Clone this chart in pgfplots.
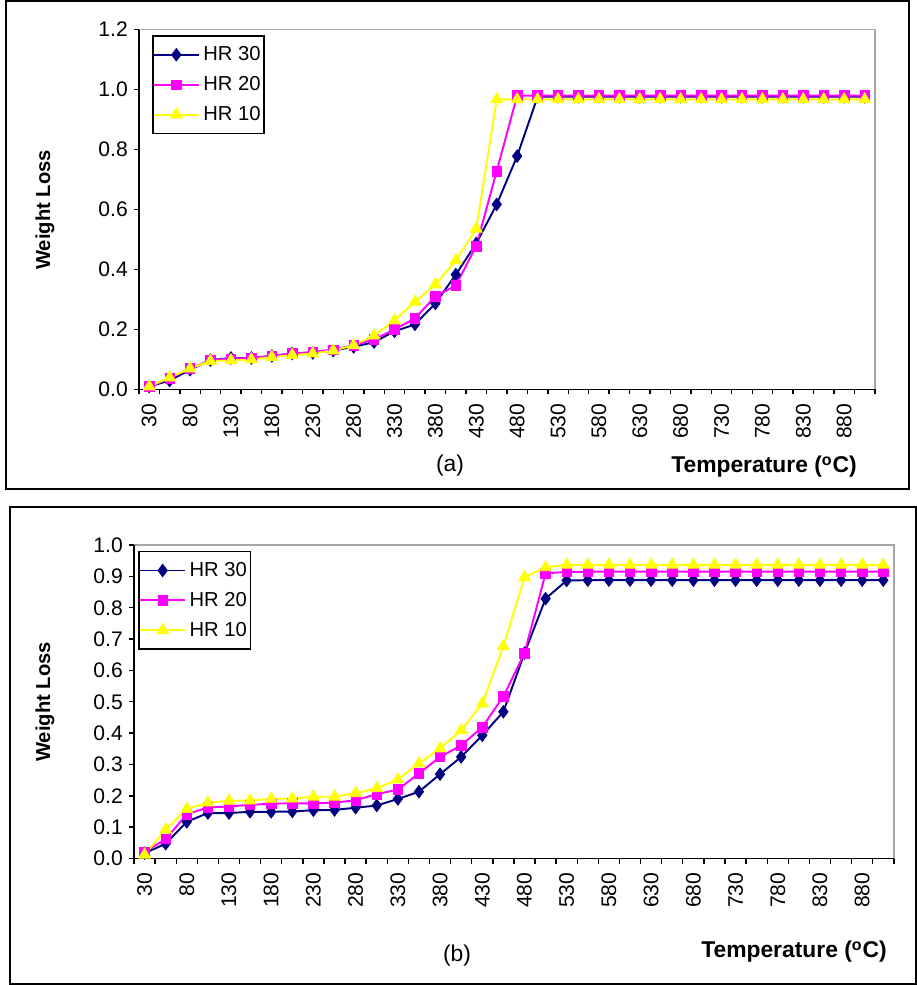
\documentclass[border=0pt]{standalone}
\usepackage{fontspec}
\setmainfont{Liberation Sans}
\usepackage{pgfplots}
\pgfplotsset{compat=1.18}

\definecolor{hrnavy}{RGB}{0,0,128}
\definecolor{hrmag}{RGB}{255,0,255}
\definecolor{hryel}{RGB}{255,255,0}

% data, one column per heating rate; idx 0..35 -> 30, 55, ..., 905 C
\pgfplotstableread{
idx  hra   hrb   hrc
0    0.010 0.010 0.010
1    0.030 0.037 0.040
2    0.066 0.070 0.070
3    0.098 0.098 0.095
4    0.105 0.103 0.097
5    0.105 0.105 0.100
6    0.112 0.112 0.108
7    0.120 0.120 0.115
8    0.122 0.125 0.120
9    0.130 0.133 0.130
10   0.142 0.147 0.147
11   0.158 0.167 0.180
12   0.194 0.200 0.230
13   0.217 0.237 0.292
14   0.287 0.311 0.350
15   0.383 0.347 0.430
16   0.487 0.478 0.536
17   0.617 0.728 0.967
18   0.778 0.980 0.967
19   0.976 0.980 0.967
20   0.976 0.980 0.967
21   0.976 0.980 0.967
22   0.976 0.980 0.967
23   0.976 0.980 0.967
24   0.976 0.980 0.967
25   0.976 0.980 0.967
26   0.976 0.980 0.967
27   0.976 0.980 0.967
28   0.976 0.980 0.967
29   0.976 0.980 0.967
30   0.976 0.980 0.967
31   0.976 0.980 0.967
32   0.976 0.980 0.967
33   0.976 0.980 0.967
34   0.976 0.980 0.967
35   0.976 0.980 0.967
}\tgaA

\pgfplotstableread{
idx  hra   hrb   hrc
0    0.017 0.021 0.012
1    0.047 0.062 0.092
2    0.117 0.141 0.158
3    0.145 0.163 0.178
4    0.145 0.166 0.184
5    0.149 0.171 0.185
6    0.149 0.175 0.190
7    0.150 0.176 0.191
8    0.154 0.176 0.197
9    0.155 0.178 0.197
10   0.162 0.186 0.208
11   0.169 0.205 0.224
12   0.190 0.220 0.252
13   0.213 0.271 0.303
14   0.269 0.324 0.351
15   0.324 0.361 0.409
16   0.393 0.419 0.494
17   0.468 0.517 0.677
18   0.655 0.655 0.897
19   0.829 0.910 0.929
20   0.887 0.914 0.937
21   0.888 0.915 0.937
22   0.888 0.915 0.937
23   0.888 0.915 0.937
24   0.888 0.915 0.937
25   0.888 0.915 0.937
26   0.888 0.915 0.937
27   0.888 0.915 0.937
28   0.888 0.915 0.937
29   0.888 0.915 0.937
30   0.888 0.915 0.937
31   0.888 0.915 0.937
32   0.888 0.915 0.937
33   0.888 0.915 0.937
34   0.888 0.915 0.937
35   0.888 0.915 0.937
}\tgaB

\pgfplotsset{
  tga/.style={
    scale only axis,
    xmin=-0.5, xmax=35.5, ymin=0,
    axis x line*=bottom, axis y line*=left,
    axis line style={black, line width=0.8pt},
    axis background/.style={draw=gray!70, line width=1pt},
    tick align=outside,
    major tick length=0.1cm, minor tick length=0.1cm,
    tick style={black, line width=0.8pt},
    major x tick style={draw=none},
    xtick={0,2,...,34},
    xticklabels={30,80,130,180,230,280,330,380,430,480,530,580,630,680,730,780,830,880},
    minor xtick={-0.5,0.5,...,35.5},
    xticklabel style={rotate=90, anchor=east, inner xsep=5pt},
    ticklabel style={font=\fontsize{12}{14}\selectfont},
    /pgf/number format/assume math mode=true,
    yticklabel style={/pgf/number format/.cd, fixed, fixed zerofill, precision=1},
    legend cell align=left,
    legend image code/.code={\draw[mark repeat=2, mark phase=2, ##1] plot coordinates {(0cm,0cm) (0.45cm,0cm) (0.9cm,0cm)};},
    legend style={anchor=north west, draw=black, line width=1pt, fill=white,
      font=\fontsize{11.5}{13}\selectfont, row sep=3.5pt, inner xsep=0pt, inner ysep=4pt},
    every axis plot/.append style={line width=1.1pt},
    clip=false,
  },
  s30/.style={color=hrnavy, mark=diamond*, mark size=3.6pt, mark options={solid, fill=hrnavy, line width=0.4pt}},
  s20/.style={color=hrmag, mark=square*, mark size=2.7pt, mark options={solid, fill=hrmag, line width=0.4pt}},
  s10/.style={color=hryel, mark=triangle*, mark size=3.9pt, mark options={solid, fill=hryel, line width=0.4pt}},
}

\begin{document}
\begin{tikzpicture}[x=0.02cm, y=0.02cm]
\useasboundingbox (0,0) rectangle (917,985);

% outer frames of the two charts
\draw[black, line width=0.7pt] (6,496) rectangle (909,984);
\draw[black, line width=0.7pt] (10,478) rectangle (916,1);

\coordinate (originA) at (139,595.5);
\coordinate (originB) at (134,126.5);

% (a)
\begin{axis}[tga,
  at={(originA)}, anchor=south west,
  width=14.72cm, height=7.2cm,
  ymax=1.2, ytick={0,0.2,0.4,0.6,0.8,1,1.2},
  legend style={at={(rel axis cs:0.0177,0.985)}},
]
\addplot[s30] table[x=idx, y=hra] {\tgaA};
\addlegendentry{HR 30}
\addplot[s20] table[x=idx, y=hrb] {\tgaA};
\addlegendentry{HR 20}
\addplot[s10] table[x=idx, y=hrc] {\tgaA};
\addlegendentry{HR 10}
\end{axis}

% (b)
\begin{axis}[tga,
  at={(originB)}, anchor=south west,
  width=15.2cm, height=6.27cm,
  ymax=1, ytick={0,0.1,0.2,0.3,0.4,0.5,0.6,0.7,0.8,0.9,1},
  legend style={at={(rel axis cs:0.0057,0.982)}},
]
\addplot[s30] table[x=idx, y=hra] {\tgaB};
\addlegendentry{HR 30}
\addplot[s20] table[x=idx, y=hrb] {\tgaB};
\addlegendentry{HR 20}
\addplot[s10] table[x=idx, y=hrc] {\tgaB};
\addlegendentry{HR 10}
\end{axis}

% titles and labels
\node[rotate=90, font=\bfseries\fontsize{11.5}{13}\selectfont] at (45,775) {Weight Loss};
\node[rotate=90, font=\bfseries\fontsize{11.5}{13}\selectfont] at (45,283) {Weight Loss};
\node[font=\bfseries\fontsize{13}{15}\selectfont] at (764,518) {Temperature (\textsuperscript{o}C)};
\node[font=\bfseries\fontsize{13}{15}\selectfont] at (794,33) {Temperature (\textsuperscript{o}C)};
\node[font=\fontsize{13}{15}\selectfont] at (450,519) {(a)};
\node[font=\fontsize{13}{15}\selectfont] at (457,29) {(b)};
\end{tikzpicture}
\end{document}
